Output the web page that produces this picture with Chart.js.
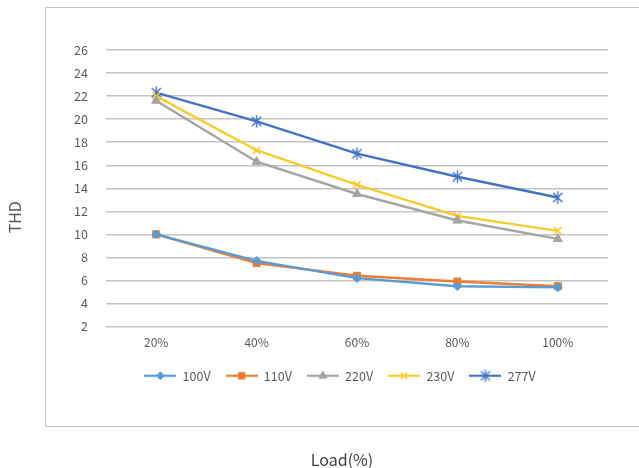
<!DOCTYPE html>
<html>
<head>
<meta charset="utf-8">
<script src="https://cdn.jsdelivr.net/npm/chart.js@4.4.1/dist/chart.umd.min.js"></script>
<style>
  html, body { margin: 0; padding: 0; background: #fff; overflow: hidden; }
  #wrap { position: relative; width: 639px; height: 468px; }
  #frame { position: absolute; left: 45px; top: 7px; width: 640px; height: 420px;
           border: 1.5px solid #c4c4c4; box-sizing: border-box; }
  #c { position: absolute; left: 0; top: 0; }
</style>
</head>
<body>
<div id="wrap">
  <div id="frame"></div>
  <canvas id="c" width="639" height="468"></canvas>
</div>
<script>
// Load steps on the category axis
const loads = ['20%', '40%', '60%', '80%', '100%'];

// THD per input voltage
const thd100 = [10.0, 7.7, 6.2, 5.5, 5.4];
const thd110 = [10.0, 7.5, 6.4, 5.9, 5.5];
const thd220 = [21.6, 16.3, 13.5, 11.2, 9.6];
const thd230 = [22.0, 17.3, 14.3, 11.6, 10.3];
const thd277 = [22.3, 19.8, 17.0, 15.0, 13.2];

const seriesNames = ['100V', '110V', '220V', '230V', '277V'];

// Value axis ticks
const yTicks = [2, 4, 6, 8, 10, 12, 14, 16, 18, 20, 22, 24, 26];

const FONT = "'Noto Sans CJK SC', 'Noto Sans', sans-serif";
const TEXT = '#595959';

// asterisk marker: an x plus a vertical stroke
function starMarker(color, r) {
  const c = document.createElement('canvas');
  const s = Math.ceil(2 * r + 4);
  c.width = s; c.height = s;
  const g = c.getContext('2d');
  const m = s / 2;
  const d = r * 0.75;
  g.strokeStyle = color;
  g.lineWidth = 1.4;
  g.beginPath();
  g.moveTo(m - d, m - d); g.lineTo(m + d, m + d);
  g.moveTo(m - d, m + d); g.lineTo(m + d, m - d);
  g.moveTo(m, m - r); g.lineTo(m, m + r);
  g.stroke();
  return c;
}

const styles = [
  { color: '#5B9BD5', pointStyle: 'rectRot', radius: 4.4, bw: 1 },
  { color: '#ED7D31', pointStyle: 'rect', radius: 5, bw: 1 },
  { color: '#A5A5A5', pointStyle: 'triangle', radius: 5.2, bw: 1 },
  { color: '#F7CB2D', pointStyle: 'crossRot', radius: 5.2, bw: 1.6 },
  { color: '#4472C4', pointStyle: starMarker('#4472C4', 6.2), radius: 6, bw: 1.4 }
];

// legend swatch: short line with the series marker in the middle
function legendIcon(st) {
  const c = document.createElement('canvas');
  c.width = 32; c.height = 14;
  const g = c.getContext('2d');
  g.strokeStyle = st.color;
  g.fillStyle = st.color;
  g.lineWidth = 2.2;
  g.beginPath(); g.moveTo(0, 7); g.lineTo(32, 7); g.stroke();
  if (typeof st.pointStyle === 'string') {
    g.lineWidth = st.bw;
    Chart.helpers.drawPoint(g, { pointStyle: st.pointStyle, radius: st.radius * 0.9, borderWidth: st.bw, rotation: 0 }, 16, 7);
  } else {
    g.drawImage(st.pointStyle, 16 - st.pointStyle.width / 2, 7 - st.pointStyle.height / 2);
  }
  return c;
}

const seriesData = [thd100, thd110, thd220, thd230, thd277];

const datasets = seriesData.map((vals, i) => ({
  label: seriesNames[i],
  data: vals,
  borderColor: styles[i].color,
  backgroundColor: styles[i].color,
  borderWidth: 2.4,
  tension: 0,
  pointStyle: styles[i].pointStyle,
  pointRadius: styles[i].radius,
  pointBorderWidth: styles[i].bw,
  pointBorderColor: styles[i].color,
  pointBackgroundColor: styles[i].color,
  pointHoverRadius: styles[i].radius
}));

// centre the legend and the bottom title under the frame rather than the canvas
const boxShift = {
  id: 'boxShift',
  afterLayout(chart) {
    const lg = chart.legend;
    if (lg) { lg.left += 36; lg.right += 36; }
    const tt = chart.titleBlock;
    if (tt) { tt.left += 38; tt.right += 38; }
  }
};

// vertical axis caption, set a little below the middle of the plot
const yCaption = {
  id: 'yCaption',
  afterDraw(chart) {
    const { ctx, chartArea } = chart;
    const cy = (chartArea.top + chartArea.bottom) / 2 + 29;
    ctx.save();
    ctx.translate(15, cy);
    ctx.rotate(-Math.PI / 2);
    ctx.fillStyle = TEXT;
    ctx.font = "16px " + FONT;
    ctx.textAlign = 'center';
    ctx.textBaseline = 'middle';
    ctx.fillText('THD', 0, 0);
    ctx.restore();
  }
};

new Chart(document.getElementById('c'), {
  type: 'line',
  data: { labels: loads, datasets },
  plugins: [boxShift, yCaption],
  options: {
    responsive: false,
    animation: false,
    layout: { padding: { top: 50, right: 31, left: 0, bottom: 0 } },
    scales: {
      x: {
        offset: true,
        grid: { display: false, drawTicks: false },
        border: { display: false },
        ticks: { color: TEXT, font: { family: FONT, size: 12 }, padding: 9, maxRotation: 0 },
        afterFit(scale) { scale.height = 28; }
      },
      y: {
        min: yTicks[0],
        max: yTicks[yTicks.length - 1],
        afterBuildTicks(scale) { scale.ticks = yTicks.map(v => ({ value: v })); },
        grid: { color: '#c4c4c4', lineWidth: 1.4, drawTicks: false },
        border: { display: false },
        ticks: { color: TEXT, font: { family: FONT, size: 12.5 }, padding: 18 },
        afterFit(scale) { scale.width = 106; }
      }
    },
    plugins: {
      tooltip: { enabled: false },
      legend: {
        position: 'bottom',
        labels: {
          color: TEXT,
          font: { family: FONT, size: 12.5 },
          usePointStyle: true,
          pointStyleWidth: 32,
          padding: 15,
          generateLabels(chart) {
            return chart.data.datasets.map((ds, i) => ({
              text: ds.label,
              pointStyle: legendIcon(styles[i]),
              fillStyle: styles[i].color,
              strokeStyle: styles[i].color,
              lineWidth: 0,
              fontColor: TEXT,
              hidden: false,
              datasetIndex: i
            }));
          }
        }
      },
      title: {
        display: true,
        position: 'bottom',
        text: 'Load(%)',
        color: '#404040',
        font: { family: FONT, size: 16, weight: 'normal', lineHeight: 1.0 },
        padding: { top: 60, bottom: 0 }
      }
    }
  }
});
</script>
</body>
</html>
